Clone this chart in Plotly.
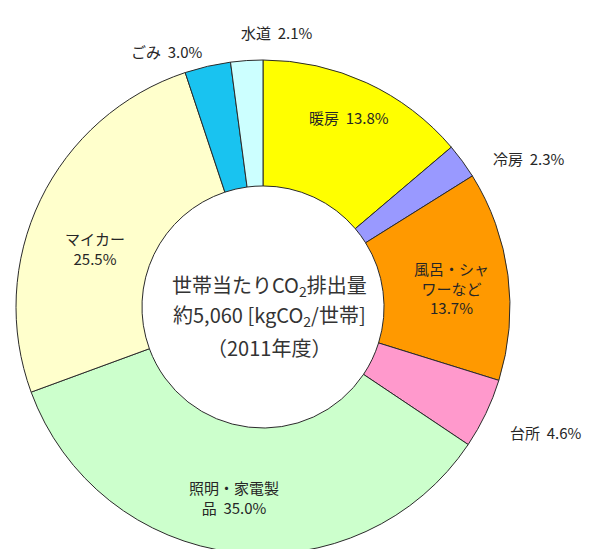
import plotly.graph_objects as go

# ---- data ----
categories = ["暖房", "冷房", "風呂・シャワーなど", "台所", "照明・家電製品", "マイカー", "ごみ", "水道"]
shares = [13.8, 2.3, 13.7, 4.6, 35.0, 25.5, 3.0, 2.1]
label_names = ["暖房", "冷房", "風呂・シャ<br>ワーなど<br>", "台所", "照明・家電製<br>品", "マイカー<br>", "ごみ", "水道"]
center_lines = ["世帯当たりCO<sub>2</sub>排出量", "約5,060 [kgCO<sub>2</sub>/世帯]", "（2011年度）"]

# ---- styles ----
colors = ["#FFFF00", "#9999FF", "#FF9900", "#FF99CC", "#CCFFCC", "#FFFFCC", "#19C3F0", "#CCFFFF"]
W, H = 591, 549
# label anchor points in pixels (x, y from top)
label_pos = [(341, 110), (521, 150), (443, 280), (538, 424), (226, 489), (87, 240), (159, 43), (269, 25)]
center_y = [277, 307, 339]
sep = ["  ", "  ", "", "  ", "  ", "", "  ", "  "]
font_fam = "Noto Sans CJK JP, sans-serif"

cx, cy, r = 255, 299, 247

fig = go.Figure(go.Pie(
    labels=categories,
    values=shares,
    sort=False,
    direction="clockwise",
    rotation=0,
    hole=0.49,
    marker=dict(colors=colors, line=dict(color="#2a2a2a", width=1)),
    textinfo="none",
    hoverinfo="label+percent",
    showlegend=False,
    domain=dict(x=[(cx - r) / W, (cx + r) / W], y=[(H - cy - r) / H, (H - cy + r) / H]),
))

annotations = []
for name, val, (px, py), s in zip(label_names, shares, label_pos, sep):
    annotations.append(dict(
        x=px / W, y=1 - py / H, xref="paper", yref="paper",
        text=f"{name}{s}{val:.1f}%", showarrow=False,
        font=dict(family=font_fam, size=15, color="#262626"),
        align="center", xanchor="center", yanchor="middle",
    ))
for line, ly in zip(center_lines, center_y):
    annotations.append(dict(
        x=261 / W, y=1 - ly / H, xref="paper", yref="paper",
        text=line, showarrow=False,
        font=dict(family=font_fam, size=20, color="#333333"),
        align="center", xanchor="center", yanchor="middle",
    ))

fig.update_layout(
    width=W, height=H,
    margin=dict(l=0, r=0, t=0, b=0),
    paper_bgcolor="white", plot_bgcolor="white",
    annotations=annotations,
)

fig.write_html("out.html")
